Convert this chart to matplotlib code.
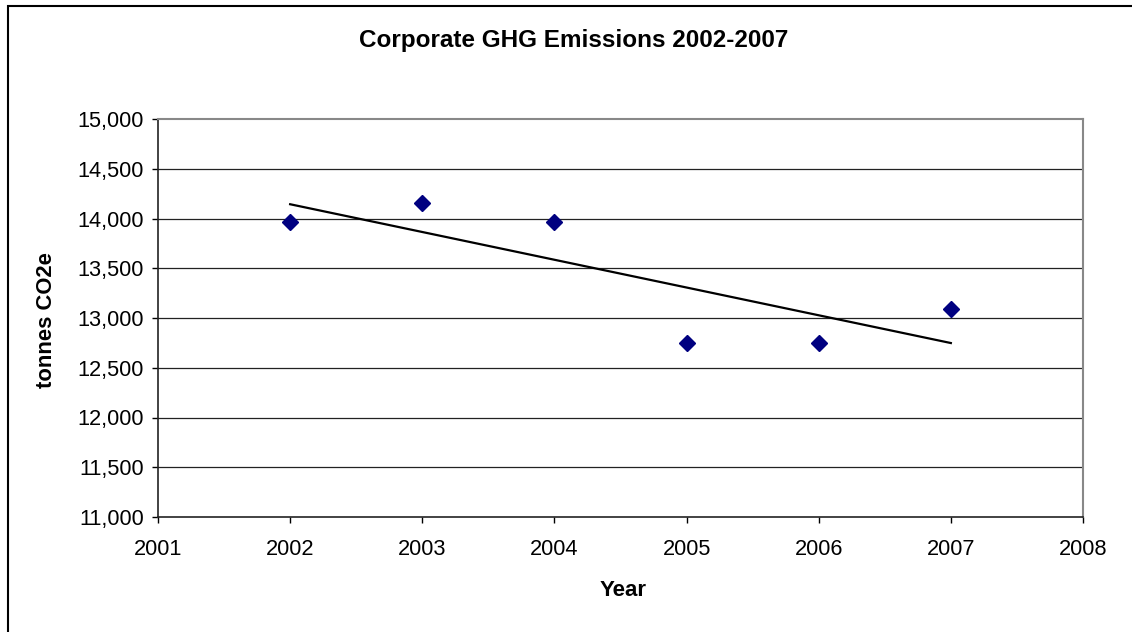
import numpy as np
import matplotlib.pyplot as plt
from matplotlib.patches import Rectangle
from matplotlib.ticker import FuncFormatter

# Corporate GHG emissions, tonnes CO2e
years = [2002, 2003, 2004, 2005, 2006, 2007]
emissions = [13960, 14160, 13960, 12750, 12750, 13095]

plt.rcParams['font.family'] = ['Liberation Sans', 'DejaVu Sans']

W, H = 1132, 632
fig = plt.figure(figsize=(W / 100, H / 100), dpi=100)

# axes placed in pixels: left 158, right 1083, top 119, bottom 517
ax = fig.add_axes([158 / W, 1 - 517 / H, (1083 - 158) / W, (517 - 119) / H])

# outer chart border (right/bottom run off the image)
fig.patches.append(Rectangle((8 / W, -0.1), 1.2, 1 - 6 / H + 0.1,
                             transform=fig.transFigure, fill=False,
                             edgecolor='black', linewidth=1.5))

ax.set_xlim(2001, 2008)
ax.set_ylim(11000, 15000)
ax.set_xticks(range(2001, 2009))
ax.set_yticks(np.arange(11000, 15001, 500))
ax.yaxis.set_major_formatter(FuncFormatter(lambda v, p: f"{int(v):,}"))

for y in np.arange(11500, 15000, 500):
    ax.axhline(y, color='#222222', linewidth=0.9, zorder=1)

ax.spines['top'].set_color('#888888')
ax.spines['right'].set_color('#888888')
ax.spines['top'].set_linewidth(1.5)
ax.spines['right'].set_linewidth(1.5)
ax.spines['left'].set_color('#222222')
ax.spines['bottom'].set_color('#222222')
ax.spines['left'].set_linewidth(1.2)
ax.spines['bottom'].set_linewidth(1.2)

ax.tick_params(axis='y', direction='out', length=4, width=1, pad=6, labelsize=15.7)
ax.tick_params(axis='x', direction='out', length=4, width=1, pad=12, labelsize=15.7)

# linear trend line
slope, intercept = np.polyfit(years, emissions, 1)
xs = np.array([years[0], years[-1]])
ax.plot(xs, slope * xs + intercept, color='black', linewidth=1.6, zorder=3)

ax.plot(years, emissions, linestyle='none', marker='D', markersize=8,
        color='#000080', zorder=4)

fig.text(574 / W, 1 - 40 / H, "Corporate GHG Emissions 2002-2007",
         ha='center', va='center', fontsize=17.5, fontweight='bold')
fig.text(47 / W, 1 - 320 / H, "tonnes CO2e", rotation=90,
         ha='center', va='center', fontsize=15.8, fontweight='bold')
fig.text(623 / W, 1 - 590 / H, "Year",
         ha='center', va='center', fontsize=16, fontweight='bold')

fig.savefig("out.png", dpi=100, facecolor='white')
